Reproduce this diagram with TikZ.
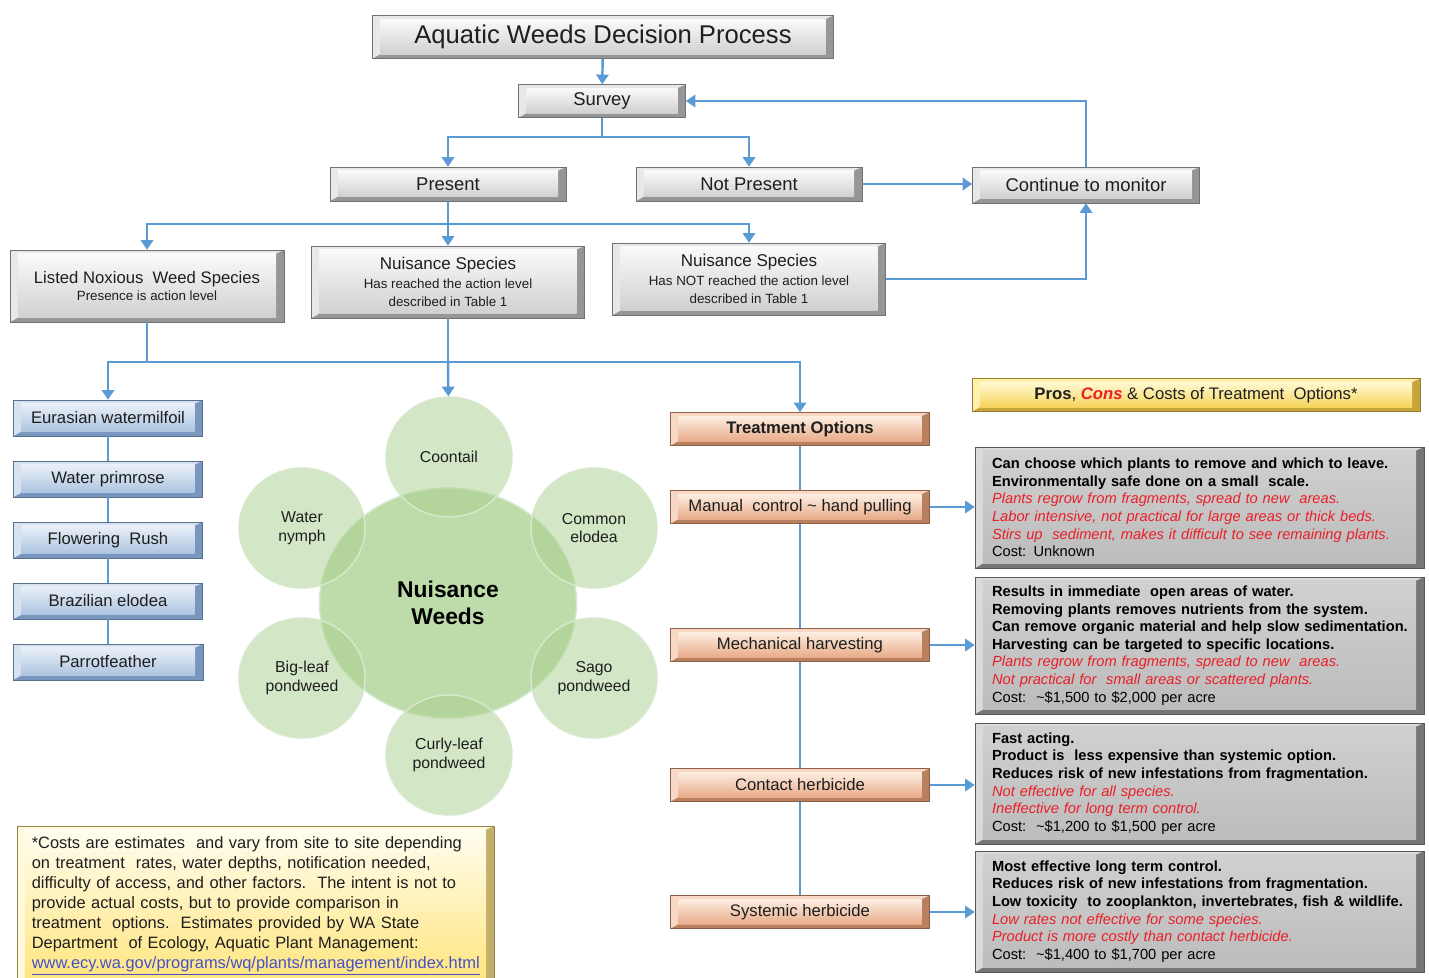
\documentclass[tikz,border=0pt]{standalone}
\usepackage{fontspec}
\setmainfont{Liberation Sans}
\usetikzlibrary{arrows.meta,shapes.geometric,calc}
\definecolor{conn}{RGB}{91,155,213}
\definecolor{conred}{RGB}{235,30,40}
\definecolor{urlc}{RGB}{70,80,200}
\definecolor{leaf}{RGB}{169,208,142}
\definecolor{leafedge}{RGB}{215,232,205}
\definecolor{txt}{RGB}{30,30,30}
% gray
\definecolor{gL}{RGB}{232,232,232}\definecolor{gD}{RGB}{150,150,150}\definecolor{gT}{RGB}{250,250,250}\definecolor{gB}{RGB}{208,208,208}
% blue
\definecolor{bL}{RGB}{214,226,240}\definecolor{bD}{RGB}{120,150,190}\definecolor{bT}{RGB}{234,240,248}\definecolor{bB}{RGB}{172,196,224}
% orange
\definecolor{oL}{RGB}{248,216,196}\definecolor{oD}{RGB}{185,128,95}\definecolor{oT}{RGB}{253,238,226}\definecolor{oB}{RGB}{232,172,138}
% yellow
\definecolor{yL}{RGB}{255,240,170}\definecolor{yD}{RGB}{200,165,60}\definecolor{yT}{RGB}{255,250,212}\definecolor{yB}{RGB}{246,212,90}
% detail gray
\definecolor{dL}{RGB}{218,218,218}\definecolor{dD}{RGB}{118,118,118}\definecolor{dT}{RGB}{208,208,208}\definecolor{dB}{RGB}{188,188,188}
% footnote
\definecolor{fL}{RGB}{255,250,220}\definecolor{fD}{RGB}{195,175,105}\definecolor{fT}{RGB}{255,253,240}\definecolor{fB}{RGB}{255,229,125}
\newcommand\myfs[2]{\fontsize{#1}{#2}\selectfont}
\newcommand\con[1]{{\color{conred}\itshape #1}}
\newcommand\sm[1]{{\myfs{7.6}{8.6}#1}}
\tikzset{
 bev/.style n args={4}{rectangle, inner sep=0pt, fill=#2, draw=#2!75!black, line width=0.3pt, text=txt,
   path picture={
     \fill[#1] (path picture bounding box.north west) -- (path picture bounding box.north east)
       -- ([shift={(-4.5pt,-2pt)}]path picture bounding box.north east)
       -- ([shift={(4.5pt,-2pt)}]path picture bounding box.north west)
       -- ([shift={(4.5pt,2.5pt)}]path picture bounding box.south west)
       -- (path picture bounding box.south west) -- cycle;
     \shade[top color=#3, bottom color=#4] ([shift={(4.5pt,-2pt)}]path picture bounding box.north west) rectangle ([shift={(-4.5pt,2.5pt)}]path picture bounding box.south east);
   }},
 sz/.style 2 args={minimum width=#1*0.02cm, minimum height=#2*0.02cm},
 graybox/.style={bev={gL}{gD}{gT}{gB}},
 bluebox/.style={bev={bL}{bD}{bT}{bB}},
 orangebox/.style={bev={oL}{oD}{oT}{oB}},
 yellowbox/.style={bev={yL}{yD}{yT}{yB}},
 detailbox/.style={bev={dL}{dD}{dT}{dB}, sz={449}{#1}, align=left, text width=8.3cm, font=\myfs{8.35}{10}, text=black},
 footbox/.style={bev={fL}{fD}{fT}{fB}},
 ln/.style={draw=conn, line width=1.4pt},
 ar/.style={ln, -{Triangle[width=7pt,length=5.5pt]}},
 leafsmall/.style={ellipse, sz={126}{120}, fill=leaf, fill opacity=0.5, draw=leafedge, line width=0.8pt, text opacity=1, text=txt, align=center, font=\myfs{9}{10.5}},
 leafbig/.style={ellipse, sz={257}{230}, fill=leaf, fill opacity=0.75, draw=leafedge, line width=0.8pt, text opacity=1, text=black, align=center, font=\myfs{13}{15.3}\bfseries},
}
\begin{document}
\begin{tikzpicture}[x=0.02cm, y=-0.02cm]
\useasboundingbox (0,0) rectangle (1429,977);
\fill[white] (0,0) rectangle (1429,977);

% top part
\node[graybox, sz={461}{43}, font=\myfs{14.6}{16}] (title) at (603,37) {Aquatic Weeds Decision Process};
\node[graybox, sz={167}{33}, font=\myfs{10.5}{12}] (survey) at (602,101) {Survey};
\node[graybox, sz={236}{34}, font=\myfs{10.5}{12}] (present) at (448,184) {Present};
\node[graybox, sz={226}{34}, font=\myfs{10.5}{12}] (notpresent) at (749,184) {Not Present};
\node[graybox, sz={227}{36}, font=\myfs{10.5}{12}] (monitor) at (1086,185) {Continue to monitor};
\node[graybox, sz={274}{72}, align=center, font=\myfs{9.5}{11}] (listed) at (147,286) {Listed Noxious\ \ Weed Species\\[-1pt]\sm{Presence is action level}};
\node[graybox, sz={273}{72}, align=center, font=\myfs{9.7}{10.5}] (nuis) at (448,282) {Nuisance Species\\\sm{Has reached the action level}\\\sm{described in Table 1}};
\node[graybox, sz={273}{72}, align=center, font=\myfs{9.7}{10.5}] (notreached) at (749,279) {Nuisance Species\\\sm{Has NOT reached the action level}\\\sm{described in Table 1}};

% listed species column
\node[bluebox, sz={189}{36}, font=\myfs{9.5}{11}] (eur) at (108,418) {Eurasian watermilfoil};
\node[bluebox, sz={189}{36}, font=\myfs{9.5}{11}] (prim) at (108,479) {Water primrose};
\node[bluebox, sz={189}{36}, font=\myfs{9.5}{11}] (rush) at (108,540) {Flowering\ \ Rush};
\node[bluebox, sz={189}{36}, font=\myfs{9.5}{11}] (braz) at (108,601) {Brazilian elodea};
\node[bluebox, sz={190}{36}, font=\myfs{9.5}{11}] (parrot) at (108,662) {Parrotfeather};

% nuisance weeds cluster
\node[leafbig] (nw) at (448,603) {Nuisance\\Weeds};
\node[leafsmall] (coon) at (449,457) {Coontail};
\node[leafsmall] (comm) at (594,528) {Common\\elodea};
\node[leafsmall] (nymph) at (302,528) {Water\\nymph};
\node[leafsmall] (big) at (302,678) {Big-leaf\\pondweed};
\node[leafsmall] (sago) at (594,678) {Sago\\pondweed};
\node[leafsmall] (curly) at (449,755) {Curly-leaf\\pondweed};

% treatment column
\node[orangebox, sz={259}{33}, font=\myfs{9.5}{11}\bfseries] (treat) at (800,429) {Treatment Options};
\node[orangebox, sz={259}{33}, font=\myfs{9.5}{11}] (manual) at (800,507) {Manual\ \ control \textasciitilde\ hand pulling};
\node[orangebox, sz={259}{33}, font=\myfs{9.5}{11}] (mech) at (800,645) {Mechanical harvesting};
\node[orangebox, sz={259}{33}, font=\myfs{9.5}{11}] (contact) at (800,785) {Contact herbicide};
\node[orangebox, sz={259}{33}, font=\myfs{9.5}{11}] (systemic) at (800,912) {Systemic herbicide};

% pros/cons
\node[yellowbox, sz={448}{33}, font=\myfs{9.5}{11}] (pros) at (1196,395) {\textbf{Pros}, {\color{conred}\bfseries\itshape Cons} \& Costs of Treatment\ \ Options*};

\node[detailbox=121] (d1) at (1199.5,507.5) {\textbf{Can choose which plants to remove and which to leave.}\\
\textbf{Environmentally safe done on a small\ \ scale.}\\
\con{Plants regrow from fragments, spread to new\ \ areas.}\\
\con{Labor intensive, not practical for large areas or thick beds.}\\
\con{Stirs up\ \ sediment, makes it difficult to see remaining plants.}\\
Cost: Unknown};

\node[detailbox=137] (d2) at (1199.5,645.5) {\textbf{Results in immediate\ \ open areas of water.}\\
\textbf{Removing plants removes nutrients from the system.}\\
\mbox{\textbf{Can remove organic material and help slow sedimentation.}}\\
\textbf{Harvesting can be targeted to specific locations.}\\
\con{Plants regrow from fragments, spread to new\ \ areas.}\\
\con{Not practical for\ \ small areas or scattered plants.}\\
Cost:\ \ \textasciitilde\$1,500 to \$2,000 per acre};

\node[detailbox=121] (d3) at (1199.5,783.5) {\textbf{Fast acting.}\\
\textbf{Product is\ \ less expensive than systemic option.}\\
\textbf{Reduces risk of new infestations from fragmentation.}\\
\con{Not effective for all species.}\\
\con{Ineffective for long term control.}\\
Cost:\ \ \textasciitilde\$1,200 to \$1,500 per acre};

\node[detailbox=121] (d4) at (1199.5,911.5) {\textbf{Most effective long term control.}\\
\textbf{Reduces risk of new infestations from fragmentation.}\\
\mbox{\textbf{Low toxicity\ \ to zooplankton, invertebrates, fish \& wildlife.}}\\
\con{Low rates not effective for some species.}\\
\con{Product is more costly than contact herbicide.}\\
Cost:\ \ \textasciitilde\$1,400 to \$1,700 per acre};

% footnote
\node[footbox, sz={477}{160}, align=left, text width=8.95cm, font=\myfs{9.35}{11.3}] (foot) at (255.5,906) {*Costs are estimates\ \ and vary from site to site depending\\
on treatment\ \ rates, water depths, notification needed,\\
difficulty of access, and other factors.\ \ The intent is not to\\
provide actual costs, but to provide comparison in\\
treatment\ \ options.\ \ Estimates provided by WA State\\
Department\ \ of Ecology, Aquatic Plant Management:\\
{\color{urlc}\underline{www.ecy.wa.gov/programs/wq/plants/management/index.html}}};

% connectors
\draw[ar] (title) -- (survey);
\coordinate (j1) at (602,137);
\draw[ln] (survey) -- (j1);
\draw[ar] (j1) -| (present);
\draw[ar] (j1) -| (notpresent);
\draw[ar] (notpresent.east) -- (notpresent.east -| monitor.west);
\draw[ar] (monitor.north) |- (survey.east);
\draw[ar] (notreached.east) -| (monitor.south);

\coordinate (j2) at (448,224);
\draw[ln] (present) -- (j2);
\draw[ar] (j2) -| (listed);
\draw[ar] (j2) -- (nuis);
\draw[ar] (j2) -| (notreached);

\coordinate (j4) at (448,362);
\coordinate (j3) at (listed.south |- j4);
\draw[ln] (listed) -- (j3);
\draw[ln] (nuis) -- (j4);
\draw[ln] (j3) -- (j4);
\draw[ar] (j3) -| (eur);
\draw[ar] (j4) -| (treat);
\draw[ar] (j4) -- (coon);

\draw[ln] (eur) -- (prim);
\draw[ln] (prim) -- (rush);
\draw[ln] (rush) -- (braz);
\draw[ln] (braz) -- (parrot);

\draw[ln] (treat) -- (manual);
\draw[ln] (manual) -- (mech);
\draw[ln] (mech) -- (contact);
\draw[ln] (contact) -- (systemic);

\draw[ar] (manual.east) -- (manual.east -| d1.west);
\draw[ar] (mech.east) -- (mech.east -| d2.west);
\draw[ar] (contact.east) -- (contact.east -| d3.west);
\draw[ar] (systemic.east) -- (systemic.east -| d4.west);
\end{tikzpicture}
\end{document}
